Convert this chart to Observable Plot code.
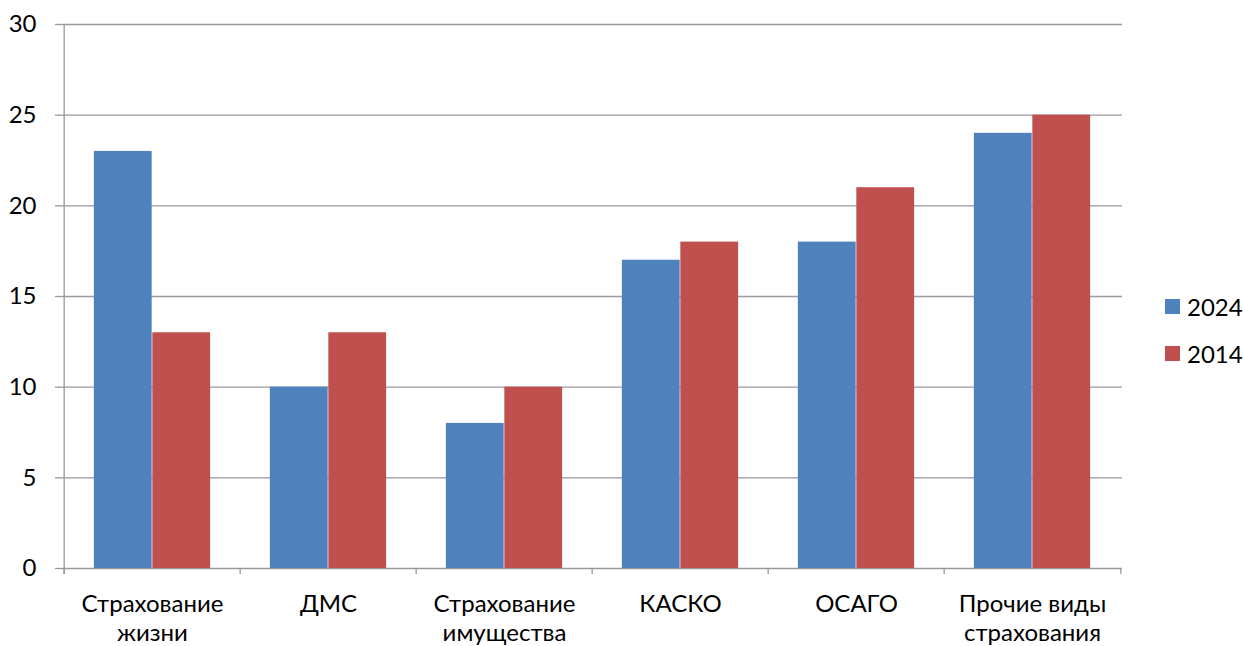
<!DOCTYPE html>
<html><head><meta charset="utf-8">
<script src="https://cdn.jsdelivr.net/npm/d3@7"></script>
<script src="https://cdn.jsdelivr.net/npm/@observablehq/plot@0.6"></script>
<style>
body{margin:0;background:#fff;font-family:Lato,sans-serif}
#wrap{position:relative;width:1243px;height:646px}
.legend{position:absolute;left:1165px;top:283px;font:24px Lato,sans-serif;color:#000}
.legend div{display:flex;align-items:center;height:47px}
.legend span.sw{display:inline-block;width:15px;height:15px;margin-right:7px}
</style></head><body><div id="wrap"></div>
<script>
const categories = ["Страхование жизни","ДМС","Страхование имущества","КАСКО","ОСАГО","Прочие виды страхования"];
const tickLabels = ["Страхование\nжизни","ДМС","Страхование\nимущества","КАСКО","ОСАГО","Прочие виды\nстрахования"];
const series = ["2024","2014"];
const values2024 = [23,10,8,17,18,24];
const values2014 = [13,13,10,18,21,25];
const colors = ["#4F81BD","#C0504D"];
const yTicks = [0,5,10,15,20,25,30];

const W = 1243, H = 646, mL = 62, mR = 121, mT = 24, mB = 78;
const bw = (W - mL - mR) / categories.length;
const barW = bw * 0.331;
const outer = (bw - 2 * barW) / 2;

const d2024 = categories.map((c,i)=>({cat:c, s:series[0], v:values2024[i]}));
const d2014 = categories.map((c,i)=>({cat:c, s:series[1], v:values2014[i]}));
const grid = "#999999";

const chart = Plot.plot({
  width: W, height: H,
  marginLeft: mL, marginRight: mR, marginTop: mT, marginBottom: mB,
  style: {fontFamily: "Lato, sans-serif", fontSize: "24px", color: "#000", background: "#fff", overflow: "visible"},
  x: {type: "band", domain: categories, padding: 0, axis: null},
  y: {domain: [0, 30], axis: null},
  marks: [
    Plot.ruleY(yTicks, {y: d=>d, stroke: grid, strokeWidth: 1.3}),
    Plot.axisY({ticks: yTicks, label: null, tickSize: 7, tickPadding: 19, stroke: grid, strokeWidth: 1.3, fontSize: 24, fill: "#000"}),
    Plot.barY(d2024, {x: "cat", y: "v", fill: colors[0], insetLeft: outer, insetRight: bw - outer - barW}),
    Plot.barY(d2014, {x: "cat", y: "v", fill: colors[1], insetLeft: outer + barW, insetRight: outer}),
    Plot.ruleX(categories, {x: d=>d, dx: -bw/2, y1: 0, y2: -0.33, stroke: grid, strokeWidth: 1.3}),
    Plot.ruleX([categories[categories.length-1]], {x: d=>d, dx: bw/2, y1: 0, y2: -0.33, stroke: grid, strokeWidth: 1.3}),
    Plot.ruleX([categories[0]], {x: d=>d, dx: -bw/2, y1: 30, y2: -0.33, stroke: grid, strokeWidth: 1.3}),
    Plot.text(categories, {x: d=>d, y: 0, dy: 23, text: (d,i)=>tickLabels[i], lineAnchor: "top", lineHeight: 1.2, fontSize: 24, fill: "#000"})
  ]
});
const wrap = document.getElementById("wrap");
wrap.appendChild(chart);
const lg = document.createElement("div");
lg.className = "legend";
series.forEach((s,i)=>{
  const row = document.createElement("div");
  row.innerHTML = `<span class="sw" style="background:${colors[i]}"></span>${s}`;
  lg.appendChild(row);
});
wrap.appendChild(lg);
</script></body></html>
